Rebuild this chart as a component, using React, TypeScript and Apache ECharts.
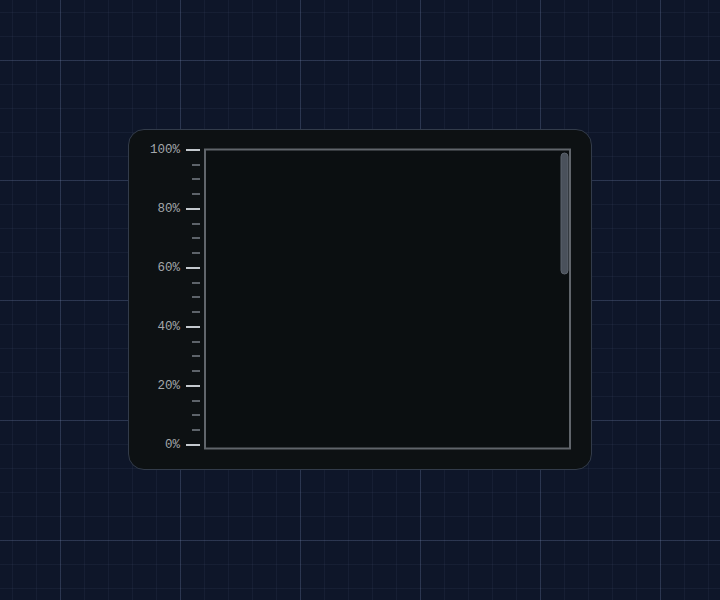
import React, { useEffect, useRef } from "react";
import * as echarts from "echarts";

// the reference shows an empty plot: axis only, no points yet
const categories: string[] = [];
const progressValues: number[] = [];
const yMin = 0;
const yMax = 100;
const yStep = 20;

export default function App() {
  const chartRef = useRef<HTMLDivElement | null>(null);

  useEffect(() => {
    if (!chartRef.current) return;
    const chart = echarts.init(chartRef.current, null, { renderer: "svg" });
    chart.setOption({
      animation: false,
      backgroundColor: "transparent",
      grid: { left: 200, top: 149.5, width: 370, height: 295, containLabel: false },
      xAxis: { type: "category", data: categories, show: false },
      yAxis: {
        type: "value",
        min: yMin,
        max: yMax,
        interval: yStep,
        axisLine: { show: false },
        splitLine: { show: false },
        axisTick: { show: true, length: 14, lineStyle: { color: "#c4c9ce", width: 2 } },
        minorTick: { show: true, splitNumber: 4, length: 8, lineStyle: { color: "#5d636a", width: 2 } },
        axisLabel: {
          margin: 20,
          color: "#a3a7ab",
          fontSize: 12.5,
          fontFamily: "Liberation Mono",
          formatter: "{value}%",
        },
      },
      series: [{ type: "line", data: progressValues, showSymbol: false }],
      graphic: [
        {
          type: "rect",
          z: -1,
          shape: { x: 205, y: 149.5, width: 365, height: 299 },
          style: { fill: "#0b0f11", stroke: "#60656b", lineWidth: 2 },
        },
        {
          type: "rect",
          shape: { x: 561, y: 153, width: 7, height: 121, r: 3.5 },
          style: { fill: "#4a515b", stroke: "#5d646e", lineWidth: 1 },
        },
      ],
    });
    return () => chart.dispose();
  }, []);

  const gridBg = {
    backgroundColor: "#0e1629",
    backgroundImage: [
      "linear-gradient(to right, rgba(120,140,180,0.22) 1px, transparent 1px)",
      "linear-gradient(to bottom, rgba(120,140,180,0.22) 1px, transparent 1px)",
      "linear-gradient(to right, rgba(100,120,160,0.09) 1px, transparent 1px)",
      "linear-gradient(to bottom, rgba(100,120,160,0.09) 1px, transparent 1px)",
    ].join(","),
    backgroundSize: "120px 120px, 120px 120px, 24px 24px, 24px 24px",
    backgroundPosition: "60px 60px, 60px 60px, 12px 12px, 12px 12px",
  };

  return (
    <div style={{ position: "fixed", left: 0, top: 0, width: 720, height: 600, ...gridBg }}>
      <div
        style={{
          position: "absolute",
          left: 128,
          top: 129,
          width: 464,
          height: 341,
          boxSizing: "border-box",
          background: "#0d1113",
          border: "1px solid #323b4a",
          borderRadius: 16,
        }}
      />
      <div ref={chartRef} style={{ position: "absolute", left: 0, top: 0, width: 720, height: 600 }} />
    </div>
  );
}
